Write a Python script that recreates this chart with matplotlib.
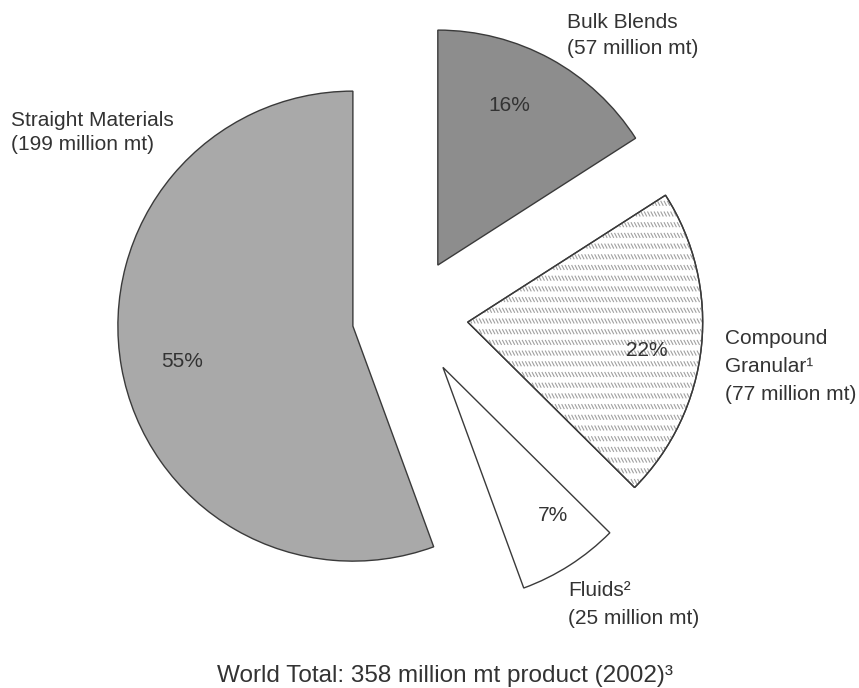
import numpy as np
import matplotlib
matplotlib.use("Agg")
import matplotlib.pyplot as plt
from matplotlib.collections import LineCollection
from matplotlib.patches import Wedge

plt.rcParams['font.family'] = ['Liberation Sans', 'DejaVu Sans']

# World fertilizer product by type, million mt (2002)
categories = ["Bulk Blends", "Compound Granular", "Fluids", "Straight Materials"]
million_mt = [57, 77, 25, 199]
pct_labels = ["16%", "22%", "7%", "55%"]
name_lines = [["Bulk Blends", "(57 million mt)"],
              ["Compound", "Granular\u00b9", "(77 million mt)"],
              ["Fluids\u00b2", "(25 million mt)"],
              ["Straight Materials", "(199 million mt)"]]
total_label = "World Total: 358 million mt product (2002)\u00b3"

W, H = 859, 688
fig = plt.figure(figsize=(W / 100, H / 100), dpi=100)
ax = fig.add_axes([0, 0, 1, 1])

R = 235
center = (410, H - 316)
fills = ["#8d8d8d", "#ffffff", "#ffffff", "#a9a9a9"]
# radial offsets of the slices, in axis units (pixels here)
explode = [58, 58, 61, 58]

wedges, _ = ax.pie(million_mt, explode=explode, startangle=90, counterclock=False,
                   colors=fills, radius=R, center=center,
                   wedgeprops=dict(edgecolor="#3a3a3a", linewidth=1.0))
ax.set_xlim(0, W)
ax.set_ylim(0, H)
ax.set_aspect("equal")
ax.axis("off")

# Compound granular fill: rows of short back-slash strokes
cg = wedges[1]
segs = []
row_gap, step, sh, sw = 10.7, 3.3, 5.0, 2.6
cx, cy = cg.center
for yr in np.arange(cy - R - 10, cy + R + 10, row_gap):
    for xs in np.arange(cx - 5, cx + R + 10, step):
        segs.append([(xs, yr + sh / 2), (xs + sw, yr - sh / 2)])
lc = LineCollection(segs, colors="#a0a0a0", linewidths=0.8, zorder=cg.get_zorder() + 0.1)
ax.add_collection(lc)
lc.set_clip_path(cg)
# redraw the outline over the strokes
ax.add_patch(Wedge(cg.center, cg.r, cg.theta1, cg.theta2, facecolor="none",
                   edgecolor="#3a3a3a", linewidth=1.0, zorder=cg.get_zorder() + 0.2))

txt = dict(color="#333333", fontsize=15)

# percentage labels, placed from each wedge's apex
pct_pos = [(175, 65.8), (181, -8.9), (184, -53.4), (174, 191.6)]
for w, lab, (rho, ang) in zip(wedges, pct_labels, pct_pos):
    x0, y0 = w.center
    a = np.deg2rad(ang)
    ax.text(x0 + rho * np.cos(a), y0 + rho * np.sin(a), lab,
            ha="center", va="center", **txt)

# category labels
name_anchor = [(567, [23, 48]), (725, [339, 367, 395]), (568, [590, 618]), (11, [120, 145])]
for lines, (x, ys) in zip(name_lines, name_anchor):
    for line, y in zip(lines, ys):
        ax.text(x, H - y, line, ha="left", va="center", **txt)

ax.text(445, H - 676, total_label, ha="center", va="center", color="#333333", fontsize=17.5)

fig.savefig("out.png", dpi=100)
